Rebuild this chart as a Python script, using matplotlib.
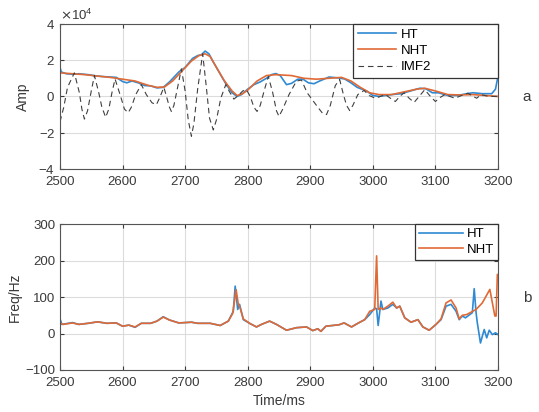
import numpy as np
import matplotlib
matplotlib.use('Agg')
import matplotlib.pyplot as plt
from matplotlib.ticker import ScalarFormatter

plt.rcParams['font.family'] = ['Liberation Sans', 'DejaVu Sans']

# Instantaneous amplitude (units of 1e4)
ht_amp_t = [2500, 2502, 2510, 2520, 2530, 2545, 2560, 2575, 2590, 2600, 2607,
            2615, 2625, 2635, 2645, 2655, 2665, 2675, 2690, 2700, 2712, 2720,
            2726, 2732, 2738, 2745, 2755, 2765, 2775, 2783, 2790, 2800, 2810,
            2820, 2830, 2838, 2845, 2852, 2862, 2870, 2880, 2888, 2897, 2906,
            2915, 2930, 2945, 2955, 2965, 2975, 2990, 3000, 3010, 3030, 3045,
            3060, 3075, 3085, 3095, 3105, 3120, 3135, 3150, 3160, 3175, 3190,
            3196, 3200]
ht_amp = [1.6, 1.35, 1.25, 1.22, 1.25, 1.2, 1.12, 1.08, 1.05, 0.82, 0.75,
          0.85, 0.75, 0.6, 0.58, 0.47, 0.5, 0.8, 1.35, 1.6, 2.1, 2.25,
          2.3, 2.5, 2.35, 1.9, 1.3, 0.7, 0.2, 0.0, 0.1, 0.4, 0.65,
          0.8, 1.0, 1.2, 1.26, 1.15, 0.65, 0.72, 0.95, 0.96, 0.75, 0.7,
          0.85, 1.07, 1.02, 0.96, 0.75, 0.5, 0.3, 0.05, 0.0, 0.1, 0.15,
          0.3, 0.45, 0.42, 0.2, 0.2, 0.05, 0.05, 0.15, 0.2, 0.15, 0.15,
          0.4, 1.1]

nht_amp_t = [2500, 2520, 2540, 2560, 2580, 2600, 2620, 2640, 2655, 2667, 2680,
             2695, 2710, 2722, 2732, 2740, 2750, 2762, 2775, 2783, 2792, 2800,
             2815, 2830, 2845, 2870, 2890, 2910, 2930, 2950, 2965, 2980, 2995,
             3010, 3030, 3050, 3070, 3083, 3100, 3120, 3140, 3160, 3180, 3200]
nht_amp = [1.3, 1.25, 1.2, 1.12, 1.05, 0.95, 0.85, 0.62, 0.5, 0.52, 0.85,
           1.4, 1.95, 2.25, 2.35, 2.2, 1.6, 0.9, 0.3, 0.05, 0.15, 0.35,
           0.85, 1.15, 1.2, 1.15, 1.0, 0.95, 1.0, 1.05, 0.85, 0.5, 0.2,
           0.1, 0.1, 0.25, 0.4, 0.45, 0.3, 0.1, 0.08, 0.1, 0.05, 0.0]

imf2_t = [2500, 2506, 2512, 2523, 2531, 2535, 2539, 2544, 2550, 2555, 2562,
          2567, 2573, 2578, 2583, 2588, 2596, 2603, 2609, 2614, 2621, 2630,
          2638, 2647, 2654, 2659, 2666, 2671, 2675, 2678, 2682, 2688, 2694,
          2700, 2705, 2710, 2714, 2720, 2728, 2733, 2739, 2745, 2750, 2757,
          2765, 2771, 2778, 2785, 2792, 2798, 2804, 2810, 2815, 2820, 2827,
          2833, 2840, 2846, 2850, 2856, 2866, 2878, 2886, 2895, 2910, 2920,
          2926, 2932, 2940, 2947, 2953, 2958, 2963, 2968, 2976, 2986, 2994,
          3004, 3012, 3020, 3028, 3036, 3043, 3050, 3058, 3066, 3074, 3083,
          3092, 3100, 3108, 3115, 3123, 3131, 3142, 3152, 3160, 3166, 3173,
          3185, 3200]
imf2 = [-1.4, -0.6, 0.5, 1.3, 0.2, -0.7, -1.25, -0.8, 0.3, 1.15, 0.2,
        -0.6, -1.15, -0.7, 0.2, 0.96, 0.1, -0.7, -0.9, -0.6, 0.1, 0.65,
        0.1, -0.35, -0.46, -0.1, 0.5, -0.1, -0.6, -0.83, -0.5, 0.5, 1.52,
        0.3, -1.3, -2.2, -1.5, 0.4, 2.35, 0.8, -1.2, -1.85, -1.3, -0.1,
        0.65, 0.25, -0.15, 0.05, 0.3, 0.37, 0.0, -0.6, -0.83, -0.5, 0.4,
        1.1, 0.2, -0.8, -1.1, -0.7, 0.1, 0.85, 0.9, 0.2, -0.5, -0.95,
        -1.0, -0.5, 0.6, 0.93, 0.1, -0.5, -0.78, -0.5, 0.1, 0.33, 0.05,
        -0.1, 0.0, 0.1, -0.1, -0.28, 0.0, 0.2, -0.1, -0.33, 0.0, 0.37,
        0.0, -0.28, -0.05, 0.1, 0.0, -0.1, 0.05, 0.18, 0.0, -0.1, 0.1,
        0.0, 0.0]

# Instantaneous frequency (Hz)
ht_freq_t = [2500, 2500.5, 2503, 2510, 2520, 2530, 2545, 2560, 2575, 2590,
             2600, 2610, 2620, 2630, 2645, 2655, 2665, 2675, 2690, 2710, 2720,
             2740, 2756, 2769, 2777, 2780, 2784, 2787, 2793, 2804, 2814, 2822,
             2835, 2846, 2862, 2878, 2894, 2904, 2912, 2917, 2925, 2946, 2954,
             2966, 2977, 2987, 2995, 3003, 3006, 3008.5, 3013, 3016, 3024,
             3032, 3038, 3043, 3051, 3061, 3072, 3080, 3090, 3101, 3109, 3117,
             3125, 3133, 3138, 3143, 3148, 3155, 3159, 3162, 3165, 3167, 3172,
             3178, 3182, 3186, 3191, 3196, 3200]
ht_freq = [0, 38, 25, 27, 30, 25, 28, 32, 28, 29,
           20, 23, 17, 28, 28, 34, 46, 37, 29, 31, 28,
           28, 22, 34, 61, 130, 66, 80, 38, 27, 18, 25,
           34, 25, 9, 16, 18, 8, 13, 6, 20, 24, 29,
           18, 29, 38, 52, 70, 68, 22, 89, 66, 70,
           80, 70, 75, 43, 31, 38, 18, 9, 25, 38, 75,
           80, 61, 38, 48, 43, 52, 57, 123, 57, 29, -26,
           11, -12, 9, -3, 2, -3]

nht_freq_t = [2500, 2505, 2520, 2530, 2545, 2560, 2575, 2590, 2600, 2610,
              2620, 2630, 2645, 2655, 2665, 2675, 2690, 2710, 2720, 2740, 2756,
              2769, 2776, 2781.5, 2785, 2787, 2793, 2804, 2814, 2822, 2835,
              2846, 2862, 2878, 2894, 2904, 2912, 2917, 2925, 2946, 2954, 2966,
              2977, 2987, 2995, 3003, 3006, 3008.5, 3013, 3016, 3024, 3032,
              3038, 3043, 3051, 3061, 3072, 3080, 3090, 3101, 3109, 3117, 3125,
              3133, 3138, 3143, 3150, 3165, 3175, 3187, 3195, 3197, 3199, 3200]
nht_freq = [29, 25, 29, 25, 28, 32, 28, 29, 20, 23,
            18, 28, 28, 34, 45, 37, 29, 31, 28, 28, 22,
            34, 55, 120, 80, 75, 40, 27, 18, 25, 34,
            25, 9, 16, 18, 8, 13, 6, 20, 24, 29, 18,
            29, 38, 61, 66, 213, 66, 70, 66, 75, 86,
            70, 75, 43, 31, 38, 18, 9, 25, 40, 84, 92,
            70, 40, 50, 52, 66, 84, 121, 48, 48, 162, 162]

xticks = [2500, 2600, 2700, 2800, 2900, 3000, 3100, 3200]

c_ht = '#2f8ad3'
c_nht = '#e06a36'
c_txt = '#3a3a3a'

fig = plt.figure(figsize=(5.39, 4.12), dpi=100)
ax1 = fig.add_axes([0.1113, 0.590, 0.8126, 0.352])
ax2 = fig.add_axes([0.1113, 0.102, 0.8126, 0.354])

ax1.plot(ht_amp_t, np.array(ht_amp) * 1e4, color=c_ht, lw=1.2, label='HT')
ax1.plot(nht_amp_t, np.array(nht_amp) * 1e4, color=c_nht, lw=1.2, label='NHT')
ax1.plot(imf2_t, np.array(imf2) * 1e4, color='#404040', lw=0.8,
         ls=(0, (5, 3.5)), label='IMF2')
ax1.set_ylim(-4e4, 4e4)
ax1.set_yticks([-4e4, -2e4, 0, 2e4, 4e4])
fmt = ScalarFormatter(useMathText=True)
fmt.set_powerlimits((0, 0))
ax1.yaxis.set_major_formatter(fmt)
ax1.set_ylabel('Amp', color=c_txt, fontsize=10, labelpad=6)

ax2.plot(ht_freq_t, ht_freq, color=c_ht, lw=1.2, label='HT')
ax2.plot(nht_freq_t, nht_freq, color=c_nht, lw=1.2, label='NHT')
ax2.set_ylim(-100, 300)
ax2.set_yticks([-100, 0, 100, 200, 300])
ax2.set_ylabel('Freq/Hz', color=c_txt, fontsize=10, labelpad=2)
ax2.set_xlabel('Time/ms', color=c_txt, fontsize=10, labelpad=4)

for ax in (ax1, ax2):
    ax.set_xlim(2500, 3200)
    ax.set_xticks(xticks)
    ax.grid(True, color='#dcdcdc', lw=0.8)
    ax.set_axisbelow(True)
    ax.tick_params(direction='in', length=3, colors=c_txt, labelsize=9.5,
                   top=True, right=True, labeltop=False, labelright=False)
    ax.tick_params(axis='x', pad=5)
    for s in ax.spines.values():
        s.set_color('#555555')
        s.set_linewidth(0.8)

ax1.yaxis.get_offset_text().set_color(c_txt)
ax1.yaxis.get_offset_text().set_fontsize(9.5)

# MATLAB-like legend boxes, stretched to a fixed width
leg1 = ax1.legend(loc='upper right', bbox_to_anchor=(0.669, 0.63, 0.331, 0.37),
                  mode='expand', borderaxespad=0, fancybox=False,
                  framealpha=1, edgecolor='#333333', fontsize=9.5,
                  handlelength=2.9, handletextpad=0.4, labelspacing=0.3,
                  borderpad=0.35)
leg1.get_frame().set_linewidth(0.9)
leg2 = ax2.legend(loc='upper right', borderaxespad=0, fancybox=False,
                  framealpha=1, edgecolor='#333333', fontsize=9.5,
                  handlelength=3.3, handletextpad=0.3, labelspacing=0.25,
                  borderpad=0.3)
leg2.get_frame().set_linewidth(0.9)

fig.text(527 / 539, 1 - 97 / 412, 'a', fontsize=11, color=c_txt,
         ha='center', va='center')
fig.text(527 / 539, 1 - 298 / 412, 'b', fontsize=11, color=c_txt,
         ha='center', va='center')

fig.savefig('out.png', dpi=100)
